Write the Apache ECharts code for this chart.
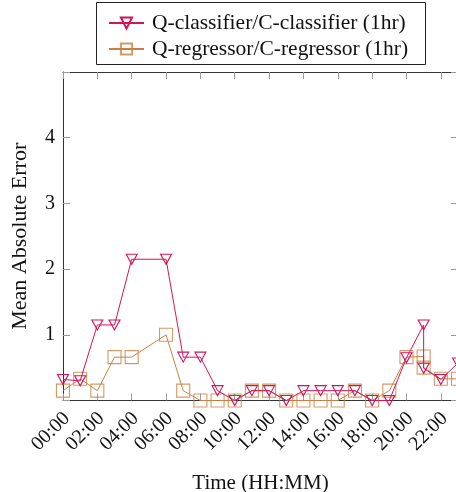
<!DOCTYPE html>
<html>
<head>
<meta charset="utf-8">
<script src="https://cdn.jsdelivr.net/npm/echarts@6/dist/echarts.min.js"></script>
<style>html,body{margin:0;padding:0;background:#fff}#c{width:456px;height:492px}</style>
</head>
<body>
<div id="c"></div>
<script>
// Data (hours of day; 21:00 appears twice)
const hours = [0, 1, 2, 3, 4, 6, 7, 8, 9, 10, 11, 12, 13, 14, 15, 16, 17, 18, 19, 20, 21, 21, 22, 23];
const classifier = [0.32, 0.30, 1.15, 1.15, 2.15, 2.15, 0.66, 0.66, 0.15, 0.0, 0.15, 0.15, 0.0, 0.15, 0.15, 0.15, 0.15, 0.0, 0.0, 0.65, 1.15, 0.49, 0.32, 0.57];
const regressor = [0.15, 0.33, 0.15, 0.66, 0.66, 1.0, 0.15, 0.0, 0.0, 0.0, 0.15, 0.15, 0.0, 0.0, 0.0, 0.0, 0.15, 0.0, 0.15, 0.66, 0.67, 0.50, 0.33, 0.33];
const seriesNames = ['Q-classifier/C-classifier (1hr)', 'Q-regressor/C-regressor (1hr)'];
const xTickLabels = ['00:00','02:00','04:00','06:00','08:00','10:00','12:00','14:00','16:00','18:00','20:00','22:00'];
const yTickLabels = ['1','2','3','4'];

const FONT = 'Liberation Serif';
const RED = '#d4145a';
const ORANGE = '#c98040';
const AXIS = '#333';
const TICK = '#999';

const pairs = (ys) => hours.map((h, i) => [h, ys[i]]);

const chart = echarts.init(document.getElementById('c'), null, {renderer: 'canvas'});
const xCommon = {
  type: 'value', min: 0, max: 23, interval: 2,
  splitLine: {show: false},
  axisLine: {show: true, onZero: false, lineStyle: {color: AXIS, width: 1}},
  axisTick: {show: true, inside: true, length: 7, lineStyle: {color: TICK, width: 1}}
};
const yCommon = {
  type: 'value', min: 0, max: 5, interval: 1,
  splitLine: {show: false},
  axisLine: {show: true, onZero: false, lineStyle: {color: AXIS, width: 1}},
  axisTick: {show: true, inside: true, length: 7, lineStyle: {color: TICK, width: 1}}
};
chart.setOption({
  animation: false,
  backgroundColor: '#fff',
  grid: {left: 63, top: 72, right: -2, bottom: 91.5, containLabel: false, outerBoundsMode: 'none'},
  xAxis: [
    Object.assign({}, xCommon, {
      position: 'bottom',
      name: 'Time (HH:MM)', nameLocation: 'middle', nameGap: 72,
      nameTextStyle: {fontFamily: FONT, fontSize: 21, color: '#111'},
      axisLabel: {
        rotate: 45, margin: 11, fontFamily: FONT, fontSize: 20, color: '#111',
        rich: {t: {fontFamily: FONT, fontSize: 20, color: '#111', padding: [11, 0, 0, 0]}},
        formatter: (v) => (v % 2 === 0 && v / 2 < xTickLabels.length) ? '{t|' + xTickLabels[v / 2] + '}' : ''
      }
    }),
    Object.assign({}, xCommon, {position: 'top', axisLabel: {show: false}})
  ],
  yAxis: [
    Object.assign({}, yCommon, {
      position: 'left',
      name: 'Mean Absolute Error', nameLocation: 'middle', nameGap: 32,
      nameTextStyle: {fontFamily: FONT, fontSize: 22, color: '#111'},
      axisLabel: {
        margin: 8, fontFamily: FONT, fontSize: 20, color: '#111',
        formatter: (v) => (v >= 1 && v <= 4) ? yTickLabels[v - 1] : ''
      }
    }),
    Object.assign({}, yCommon, {position: 'right', axisLabel: {show: false}})
  ],
  legend: {
    orient: 'vertical', left: 103, top: 7,
    itemWidth: 35, itemHeight: 14, itemGap: 4,
    textStyle: {fontFamily: FONT, fontSize: 21.5, lineHeight: 22, color: '#111', padding: [0, 0, 0, 3]},
    data: seriesNames
  },
  graphic: [{
    type: 'rect', z: 0,
    shape: {x: 96.5, y: 2.5, width: 329, height: 62},
    style: {fill: '#fff', stroke: '#222', lineWidth: 1}
  }],
  series: [
    {
      name: seriesNames[0], type: 'line', data: pairs(classifier),
      xAxisIndex: 0, yAxisIndex: 0,
      symbol: 'triangle', symbolRotate: 180, symbolSize: [11, 10], showAllSymbol: true,
      lineStyle: {color: RED, width: 1},
      itemStyle: {color: 'rgba(0,0,0,0)', borderColor: RED, borderWidth: 1.1},
      z: 3
    },
    {
      name: seriesNames[1], type: 'line', data: pairs(regressor),
      xAxisIndex: 0, yAxisIndex: 0,
      symbol: 'rect', symbolSize: [13, 13], showAllSymbol: true,
      lineStyle: {color: ORANGE, width: 1},
      itemStyle: {color: 'rgba(0,0,0,0)', borderColor: ORANGE, borderWidth: 1.1, opacity: 0.8},
      z: 2
    }
  ]
});
</script>
</body>
</html>
